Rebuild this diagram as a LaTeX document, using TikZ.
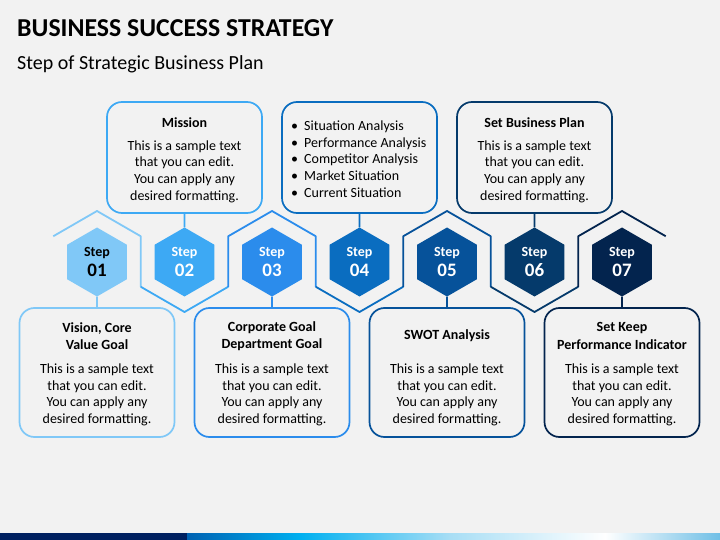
\documentclass[tikz,border=0pt]{standalone}
\usepackage{fontspec}
\setmainfont{Carlito}
\usetikzlibrary{shapes.geometric}
\definecolor{bg}{HTML}{F2F2F2}
\definecolor{cA}{HTML}{80C8F7}
\definecolor{cB}{HTML}{3DA9F4}
\definecolor{cC}{HTML}{2B8CEC}
\definecolor{cD}{HTML}{0A6DC0}
\definecolor{cE}{HTML}{06529A}
\definecolor{cF}{HTML}{053A6B}
\definecolor{cG}{HTML}{03244E}
\definecolor{navy}{HTML}{002060}
\definecolor{txt}{HTML}{000000}
\definecolor{barA}{HTML}{0062B2}
\definecolor{barB}{HTML}{00B0F0}
\definecolor{barC}{HTML}{A8DEF5}
\definecolor{barD}{HTML}{FFFFFF}
\definecolor{barE}{HTML}{6FBFE6}
\begin{document}
\begin{tikzpicture}[x=1pt,y=-1pt,
  hexnode/.style={regular polygon, regular polygon sides=6, shape border rotate=30,
    minimum size=69pt, inner sep=0pt, outer sep=0pt, fill=#1, text=white, align=center,
    font=\bfseries\fontsize{14}{18}\selectfont},
  box/.style={draw=#1, line width=1.7pt, rounded corners=15pt, minimum width=155pt, inner sep=0pt, outer sep=0pt},
  topbox/.style={box=#1, minimum height=111pt},
  botbox/.style={box=#1, minimum height=129pt},
  conn/.style={draw=#1, line width=1.8pt},
  outl/.style={draw=#1, line width=1.8pt, line join=round},
  ttl/.style={font=\bfseries\fontsize{14}{17.3}\selectfont, align=center, text=txt},
  body/.style={font=\fontsize{14}{16.7}\selectfont, align=center, text=txt}
]
\useasboundingbox (0,0) rectangle (720,540);
\fill[bg] (0,0) rectangle (720,540);

% title
\node[anchor=base west, inner sep=0pt, font=\bfseries\fontsize{25.8}{28}\selectfont] (title) at (17,36.7) {BUSINESS SUCCESS STRATEGY};
\node[anchor=base west, inner sep=0pt, font=\fontsize{20}{22}\selectfont] (subtitle) at (17,69.5) {Step of Strategic Business Plan};

% outline chain
\draw[outl=cA] (53.27,236.25) -- (97,211) -- (140.73,236.25) -- (140.73,286.75);
\draw[outl=cB] (140.73,286.75) -- (184.5,312) -- (228.23,286.75);
\draw[outl=cC] (228.23,286.75) -- (228.23,236.25) -- (272,211) -- (315.73,236.25) -- (315.73,286.75);
\draw[outl=cD] (315.73,286.75) -- (359.5,312) -- (403.23,286.75);
\draw[outl=cE] (403.23,286.75) -- (403.23,236.25) -- (447,211) -- (490.73,236.25) -- (490.73,286.75);
\draw[outl=cF] (490.73,286.75) -- (534.5,312) -- (578.23,286.75);
\draw[outl=cG] (578.23,286.75) -- (578.23,236.25) -- (622,211) -- (665.73,236.25);

% hexagons
\node[hexnode=cA, text=black] (h1) at (97,262) {Step\\[2.5pt]{\fontsize{19}{18}\selectfont 01}};
\node[hexnode=cB] (h2) at (184.5,262) {Step\\[2.5pt]{\fontsize{19}{18}\selectfont 02}};
\node[hexnode=cC] (h3) at (272,262) {Step\\[2.5pt]{\fontsize{19}{18}\selectfont 03}};
\node[hexnode=cD] (h4) at (359.5,262) {Step\\[2.5pt]{\fontsize{19}{18}\selectfont 04}};
\node[hexnode=cE] (h5) at (447,262) {Step\\[2.5pt]{\fontsize{19}{18}\selectfont 05}};
\node[hexnode=cF] (h6) at (534.5,262) {Step\\[2.5pt]{\fontsize{19}{18}\selectfont 06}};
\node[hexnode=cG] (h7) at (622,262) {Step\\[2.5pt]{\fontsize{19}{18}\selectfont 07}};

% top boxes
\node[topbox=cB] (b2) at (184.5,157.5) {};
\node[topbox=cD] (b4) at (359.5,157.5) {};
\node[topbox=cF] (b6) at (534.5,157.5) {};
% bottom boxes
\node[botbox=cA] (b1) at (97,372.5) {};
\node[botbox=cC] (b3) at (272,372.5) {};
\node[botbox=cE] (b5) at (447,372.5) {};
\node[botbox=cG] (b7) at (622,372.5) {};

% connectors
\draw[conn=cA] (h1.south) -- (b1.north);
\draw[conn=cB] (h2.north) -- (b2.south);
\draw[conn=cC] (h3.south) -- (b3.north);
\draw[conn=cD] (h4.north) -- (b4.south);
\draw[conn=cE] (h5.south) -- (b5.north);
\draw[conn=cF] (h6.north) -- (b6.south);
\draw[conn=cG] (h7.south) -- (b7.north);

% texts top
\node[ttl] (t2) at (184.5,122.2) {Mission};
\node[body] (d2) at (184.5,171.5) {This is a sample text\\that you can edit.\\You can apply any\\desired formatting.};
\node[body, align=left, anchor=west, inner sep=0pt] (d4) at (291,159) {\makebox[13pt][l]{•}Situation Analysis\\\makebox[13pt][l]{•}Performance Analysis\\\makebox[13pt][l]{•}Competitor Analysis\\\makebox[13pt][l]{•}Market Situation\\\makebox[13pt][l]{•}Current Situation};
\node[ttl] (t6) at (534.5,122.2) {Set Business Plan};
\node[body] (d6) at (534.5,171.5) {This is a sample text\\that you can edit.\\You can apply any\\desired formatting.};

% texts bottom
\node[ttl] (t1) at (97,336) {Vision, Core\\Value Goal};
\node[body] (d1) at (97,394.8) {This is a sample text\\that you can edit.\\You can apply any\\desired formatting.};
\node[ttl] (t3) at (272,336) {Corporate Goal\\Department Goal};
\node[body] (d3) at (272,394.8) {This is a sample text\\that you can edit.\\You can apply any\\desired formatting.};
\node[ttl] (t5) at (447,336) {SWOT Analysis};
\node[body] (d5) at (447,394.8) {This is a sample text\\that you can edit.\\You can apply any\\desired formatting.};
\node[ttl] (t7) at (622,336) {Set Keep\\Performance Indicator};
\node[body] (d7) at (622,394.8) {This is a sample text\\that you can edit.\\You can apply any\\desired formatting.};

% bottom bar
\fill[navy] (0,533) rectangle (187.5,540);
\shade[left color=barA, right color=barB] (187,533) rectangle (300.5,540);
\shade[left color=barB, right color=barC] (300,533) rectangle (450.5,540);
\shade[left color=barC, right color=barD] (450,533) rectangle (605.5,540);
\shade[left color=barD, right color=barE] (605,533) rectangle (720,540);
\end{tikzpicture}
\end{document}
